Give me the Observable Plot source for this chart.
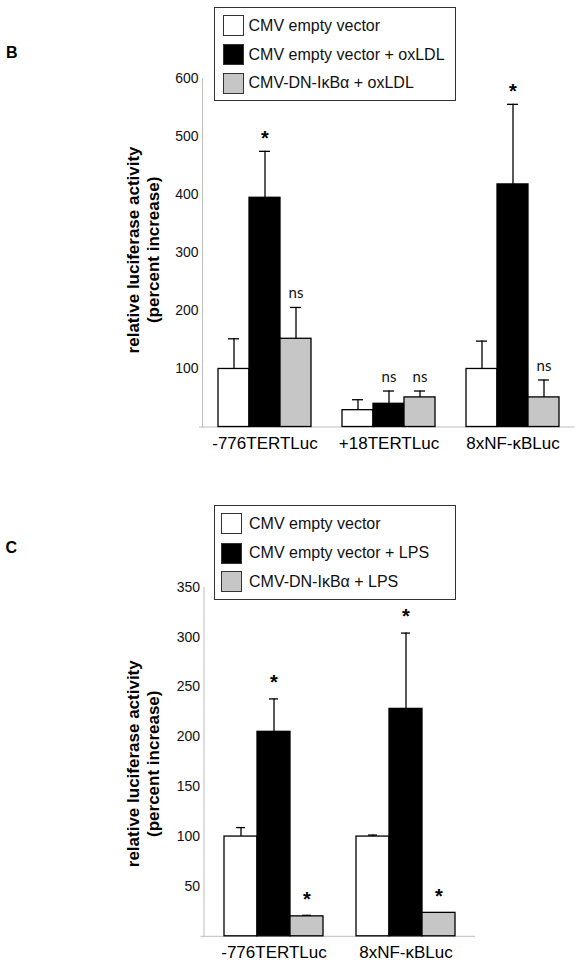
<!DOCTYPE html>
<html><head><meta charset="utf-8">
<script src="https://cdn.jsdelivr.net/npm/d3@7"></script>
<script src="https://cdn.jsdelivr.net/npm/@observablehq/plot@0.6"></script>
<style>
body{margin:0;background:#fff;font-family:"Liberation Sans",Arial,sans-serif;}
#page{position:relative;width:581px;height:964px;overflow:hidden;background:#fff;}
.abs{position:absolute;}
.letter{font-weight:bold;font-size:16px;line-height:16px;color:#000;}
.legbox{border:1.3px solid #333;box-sizing:border-box;background:#fff;}
.row{display:flex;align-items:center;font-size:16px;line-height:16px;white-space:nowrap;color:#111;}
.sw{width:21px;height:21px;border:1px solid #333;box-sizing:border-box;margin-right:5px;flex:none;}
</style></head><body><div id="page"></div>
<script>
// ---------- Panel B data ----------
const groupsB = ["-776TERTLuc", "+18TERTLuc", "8xNF-\u03BABLuc"];
const seriesB = ["CMV empty vector", "CMV empty vector + oxLDL", "CMV-DN-I\u03BAB\u03B1 + oxLDL"];
const whiteB = [100, 29, 100];
const blackB = [395, 40, 418];
const grayB  = [152, 51, 51];
const whiteSdB = [52, 18, 48];
const blackSdB = [80, 22, 138];
const graySdB  = [54, 11, 30];
const whiteLabB = ["", "", ""];
const blackLabB = ["*", "ns", "*"];
const grayLabB  = ["ns", "ns", "ns"];
const ticksB = [100, 200, 300, 400, 500, 600];

// ---------- Panel C data ----------
const groupsC = ["-776TERTLuc", "8xNF-\u03BABLuc"];
const seriesC = ["CMV empty vector", "CMV empty vector + LPS", "CMV-DN-I\u03BAB\u03B1 + LPS"];
const whiteC = [100, 100];
const blackC = [205, 228];
const grayC  = [20, 23.5];
const whiteSdC = [9, 1.5];
const blackSdC = [33, 76];
const graySdC  = [1, 0];
const whiteLabC = ["", ""];
const blackLabC = ["*", "*"];
const grayLabC  = ["*", "*"];
const ticksC = [50, 100, 150, 200, 250, 300, 350];

const yTitle = "relative luciferase activity\n(percent increase)";
const barColors = ["#ffffff", "#000000", "#c6c6c6"];

function buildRows(groups, series, values, sds, labels) {
  const rows = [];
  groups.forEach((g, i) => series.forEach((s, j) => rows.push({
    group: g, series: s, slot: `${i}|${j}`, value: values[j][i], sd: sds[j][i], label: labels[j][i]
  })));
  return rows;
}
function slotDomain(groups, series) {
  const d = [];
  groups.forEach((g, i) => { if (i > 0) d.push(`gap${i}`); series.forEach((s, j) => d.push(`${i}|${j}`)); });
  return d;
}

function panel(cfg) {
  const rows = buildRows(cfg.groups, cfg.series, cfg.values, cfg.sds, cfg.labels);
  const err = rows.filter(d => d.sd > 0);
  const top = d => d.value + d.sd;
  return Plot.plot({
    width: 581, height: cfg.height,
    marginLeft: cfg.ml, marginRight: cfg.mr, marginTop: cfg.mt, marginBottom: cfg.mb,
    style: {fontFamily: '"Liberation Sans", Arial, sans-serif', fontSize: "14px", color: "#111", background: "transparent"},
    x: {type: "band", domain: slotDomain(cfg.groups, cfg.series), paddingInner: 0, paddingOuter: 0.5, axis: null},
    y: {domain: [0, cfg.ymax], axis: null},
    color: {type: "ordinal", domain: cfg.series, range: barColors},
    marks: [
      Plot.ruleY([0], {stroke: "#bdbdbd", strokeWidth: 1, insetLeft: -3}),
      Plot.frame({anchor: "left", stroke: "#bdbdbd", strokeWidth: 1}),
      Plot.axisY({ticks: cfg.ticks, tickSize: 0, tickPadding: 4, fontSize: 14, label: null, tickFormat: d => String(d)}),
      Plot.barY(rows, {x: "slot", y: "value", fill: "series", stroke: "black", strokeWidth: 1.3}),
      Plot.ruleX(err, {x: "slot", y1: "value", y2: top, stroke: "black", strokeWidth: 1.3}),
      Plot.tickY(err, {x: "slot", y: top, insetLeft: cfg.cap, insetRight: cfg.cap, stroke: "black", strokeWidth: 1.3}),
      Plot.text(rows.filter(d => d.label === "*"), {x: "slot", y: top, text: "label", dy: cfg.starDy, fontSize: 20, fontWeight: "bold", fill: "#000"}),
      Plot.text(rows.filter(d => d.label === "ns"), {x: "slot", y: top, text: "label", dy: -14, fontSize: 15, fontFamily: "Lato, 'Open Sans', sans-serif", fill: "#111"}),
      Plot.text(cfg.groups, {x: (d, i) => `${i}|1`, y: () => 0, text: d => d, dy: cfg.labDy, fontSize: 17, fill: "#000"}),
      Plot.text([yTitle], {frameAnchor: "left", text: d => d, rotate: -90, dx: cfg.titleDx, dy: cfg.titleDy, textAnchor: "middle", fontWeight: "bold", fontSize: 17, lineHeight: 1.2, fill: "#000"})
    ]
  });
}

function legend(series, box, swLeft, swTops, textLeft) {
  const frag = document.createElement("div");
  const b = document.createElement("div");
  b.className = "abs legbox";
  Object.assign(b.style, {left: box[0] + "px", top: box[1] + "px", width: box[2] + "px", height: box[3] + "px"});
  frag.appendChild(b);
  series.forEach((s, j) => {
    const r = document.createElement("div");
    r.className = "abs row";
    Object.assign(r.style, {left: swLeft + "px", top: swTops[j] + "px", height: "21px"});
    const sw = document.createElement("div");
    sw.className = "sw";
    sw.style.background = barColors[j];
    sw.style.marginRight = (textLeft - swLeft - 21) + "px";
    const t = document.createElement("span");
    t.textContent = s;
    r.appendChild(sw); r.appendChild(t);
    frag.appendChild(r);
  });
  return frag;
}

const page = document.getElementById("page");

const divB = document.createElement("div");
divB.className = "abs"; divB.style.left = "0px"; divB.style.top = "0px";
divB.appendChild(panel({
  groups: groupsB, series: seriesB,
  values: [whiteB, blackB, grayB], sds: [whiteSdB, blackSdB, graySdB], labels: [whiteLabB, blackLabB, grayLabB],
  ticks: ticksB, ymax: 600, height: 480, ml: 202, mr: 6.3, mt: 78.3, mb: 53.5,
  cap: 10, starDy: -13, labDy: 16.5, titleDx: -60.3, titleDy: -3
}));
page.appendChild(divB);

const divC = document.createElement("div");
divC.className = "abs"; divC.style.left = "0px"; divC.style.top = "480px";
divC.appendChild(panel({
  groups: groupsC, series: seriesC,
  values: [whiteC, blackC, grayC], sds: [whiteSdC, blackSdC, graySdC], labels: [whiteLabC, blackLabC, grayLabC],
  ticks: ticksC, ymax: 350, height: 484, ml: 203.5, mr: 106, mt: 106.7, mb: 28.2,
  cap: 12, starDy: -16, labDy: 16, titleDx: -61.8, titleDy: 2
}));
page.appendChild(divC);

page.appendChild(legend(seriesB, [213.5, 7, 242.5, 94], 223, [15, 44, 72.7], 248.5));
page.appendChild(legend(seriesC, [213.7, 505, 242.6, 95], 221, [513.3, 542.7, 571], 249));

const lB = document.createElement("div");
lB.className = "abs letter"; lB.style.left = "6px"; lB.style.top = "44.8px"; lB.textContent = "B";
page.appendChild(lB);
const lC = document.createElement("div");
lC.className = "abs letter"; lC.style.left = "5.5px"; lC.style.top = "539.8px"; lC.textContent = "C";
page.appendChild(lC);
</script>
</body></html>
